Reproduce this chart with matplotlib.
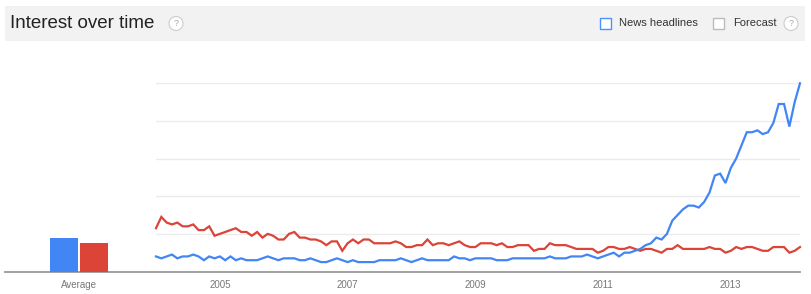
import matplotlib.pyplot as plt
from matplotlib.patches import Rectangle, Circle

plt.rcParams['font.family'] = ['Liberation Sans', 'DejaVu Sans']

# monthly values, Jan 2004 .. Feb 2014
blue = [8, 7, 8, 9, 7, 8, 8, 9, 8, 6, 8, 7,
        8, 6, 8, 6, 7, 6, 6, 6, 7, 8, 7, 6,
        7, 7, 7, 6, 6, 7, 6, 5, 5, 6, 7, 6,
        5, 6, 5, 5, 5, 5, 6, 6, 6, 6, 7, 6,
        5, 6, 7, 6, 6, 6, 6, 6, 8, 7, 7, 6,
        7, 7, 7, 7, 6, 6, 6, 7, 7, 7, 7, 7,
        7, 7, 8, 7, 7, 7, 8, 8, 8, 9, 8, 7,
        8, 9, 10, 8, 10, 10, 11, 12, 14, 15, 18, 17,
        20, 27, 30, 33, 35, 35, 34, 37, 42, 51, 52, 47,
        55, 60, 67, 74, 74, 75, 73, 74, 79, 89, 89, 77,
        90, 100]
red = [23, 29, 26, 25, 26, 24, 24, 25, 22, 22, 24, 19,
       20, 21, 22, 23, 21, 21, 19, 21, 18, 20, 19, 17,
       17, 20, 21, 18, 18, 17, 17, 16, 14, 16, 16, 11,
       15, 17, 15, 17, 17, 15, 15, 15, 15, 16, 15, 13,
       13, 14, 14, 17, 14, 15, 15, 14, 15, 16, 14, 13,
       13, 15, 15, 15, 14, 15, 13, 13, 14, 14, 14, 11,
       12, 12, 15, 14, 14, 14, 13, 12, 12, 12, 12, 10,
       11, 13, 13, 12, 12, 13, 12, 11, 12, 12, 11, 10,
       12, 12, 14, 12, 12, 12, 12, 12, 13, 12, 12, 10,
       11, 13, 12, 13, 13, 12, 11, 11, 13, 13, 13, 10,
       11, 13]
months = list(range(len(blue)))

avg_blue = 18
avg_red = 15

year_pos = [12, 36, 60, 84, 108]
year_labels = ["2005", "2007", "2009", "2011", "2013"]

BLUE = "#4285f4"
RED = "#db4437"

W, H = 812, 294
fig = plt.figure(figsize=(W / 100, H / 100), dpi=100)

# background layer in pixel coordinates (header, baseline)
bg = fig.add_axes([0, 0, 1, 1], zorder=0)
bg.set_xlim(0, W)
bg.set_ylim(H, 0)
bg.axis("off")

bg.add_patch(Rectangle((5, 6), 800, 35, color="#f2f2f2", lw=0))
bg.text(10, 24, "Interest over time", fontsize=13.5, color="#222222", va="center")
for cx in [176, 791]:
    bg.add_patch(Circle((cx, 23.5), 7, fc="white", ec="#cccccc", lw=0.8))
    bg.text(cx, 24, "?", fontsize=6.5, color="#aaaaaa", ha="center", va="center")
bg.add_patch(Rectangle((600, 17.5), 11, 11, fc="white", ec="#4d90fe", lw=1))
bg.text(619, 23.5, "News headlines", fontsize=8, color="#333333", va="center")
bg.add_patch(Rectangle((713, 17.5), 11, 11, fc="white", ec="#bbbbbb", lw=1))
bg.text(733, 23.5, "Forecast", fontsize=8, color="#333333", va="center")
bg.plot([5, 800], [271.5, 271.5], color="#999999", lw=1.3)

bottom = 1 - 271.5 / H
height = (271.5 - 83.3) / H

# main line chart
ax = fig.add_axes([156 / W, bottom, 644 / W, height], zorder=1)
ax.patch.set_alpha(0)
ax.plot(months, red, color=RED, lw=1.6, clip_on=False, solid_joinstyle="miter")
ax.plot(months, blue, color=BLUE, lw=1.6, clip_on=False, solid_joinstyle="miter")
ax.set_xlim(0, len(blue) - 1)
ax.set_ylim(0, 100)
ax.set_yticks([20, 40, 60, 80, 100])
ax.yaxis.grid(True, color="#ebebeb", lw=1)
ax.set_axisbelow(True)
ax.set_xticks(year_pos)
ax.set_xticklabels(year_labels)
ax.tick_params(axis="y", length=0, labelleft=False)
ax.tick_params(axis="x", length=0, pad=6, labelsize=7, labelcolor="#777777")
for s in ax.spines.values():
    s.set_visible(False)

# average bars
ax2 = fig.add_axes([5 / W, bottom, 151 / W, height], zorder=1)
ax2.patch.set_alpha(0)
ax2.bar([-0.5], [avg_blue], width=0.93, color=BLUE)
ax2.bar([0.5], [avg_red], width=0.93, color=RED)
ax2.set_xlim(-74 / 30, 77 / 30)
ax2.set_ylim(0, 100)
ax2.set_xticks([0])
ax2.set_xticklabels(["Average"])
ax2.set_yticks([])
ax2.tick_params(axis="x", length=0, pad=6, labelsize=7, labelcolor="#777777")
for s in ax2.spines.values():
    s.set_visible(False)

plt.savefig("out.png", dpi=100)
